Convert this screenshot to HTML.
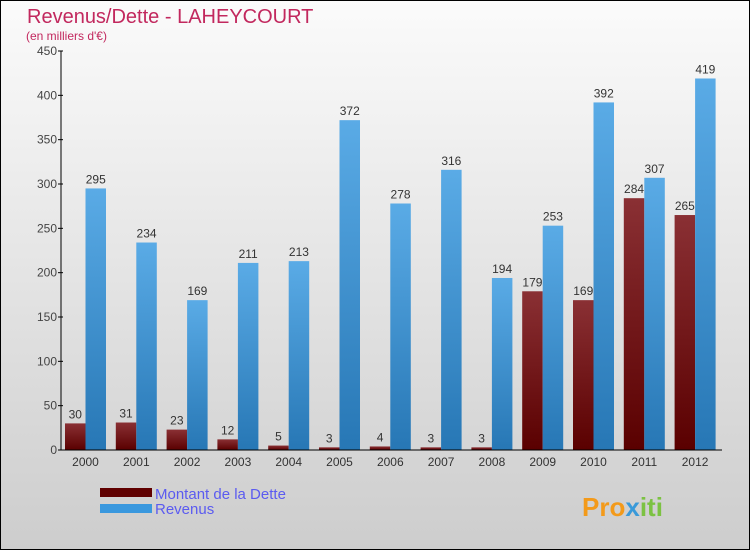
<!DOCTYPE html>
<html><head><meta charset="utf-8"><style>
body{margin:0}
#c{width:750px;height:550px;position:relative;overflow:hidden;font-family:"Liberation Sans",sans-serif}
</style></head><body>
<div id="c">
<svg id="s" width="750" height="550" xmlns="http://www.w3.org/2000/svg">
<defs>
<linearGradient id="bg" x1="0" y1="0" x2="0" y2="1"><stop offset="0" stop-color="#fbfbfb"/><stop offset="1" stop-color="#cdcdcd"/></linearGradient>
<linearGradient id="gd" x1="0" y1="0" x2="0" y2="1"><stop offset="0" stop-color="#8a3034"/><stop offset="1" stop-color="#5a0000"/></linearGradient>
<linearGradient id="gr" x1="0" y1="0" x2="0" y2="1"><stop offset="0" stop-color="#5aabe6"/><stop offset="1" stop-color="#2777b5"/></linearGradient>
</defs>
<rect x="0.5" y="0.5" width="749" height="549" fill="url(#bg)" stroke="#000"/>
<text x="27" y="23" font-size="20" fill="#c2285e">Revenus/Dette - LAHEYCOURT</text>
<text x="26" y="40" font-size="12" fill="#c2285e">(en milliers d'€)</text>
<g id="plot"></g>
<rect x="100" y="488" width="52" height="9" fill="#600000"/>
<rect x="100" y="504" width="52" height="9" fill="#3a98de"/>
<text x="155" y="499" font-size="15" fill="#5b5bf0">Montant de la Dette</text>
<text x="155" y="514" font-size="15" fill="#5b5bf0">Revenus</text>
<text x="582" y="516" font-size="26" font-weight="bold" fill="#f39a1a">Pro<tspan fill="#3a9ad9">x</tspan><tspan fill="#7cc242">iti</tspan></text>
</svg>
</div>
<script>
const years=["2000","2001","2002","2003","2004","2005","2006","2007","2008","2009","2010","2011","2012"];
const dette=[30,31,23,12,5,3,4,3,3,179,169,284,265];
const revenus=[295,234,169,211,213,372,278,316,194,253,392,307,419];
const ticks=[0,50,100,150,200,250,300,350,400,450];
const NS="http://www.w3.org/2000/svg";
const g=document.getElementById('plot');
const x0=61,yBase=450,yTop=51,vMax=450,gw=50.8,first=65,bw=20.5;
function y(v){return yBase-(yBase-yTop)*v/vMax;}
function gx(i){return first+i*gw;}
function mk(t,a){const e=document.createElementNS(NS,t);for(const k in a)e.setAttribute(k,a[k]);g.appendChild(e);return e;}
ticks.forEach(t=>{
 const l=mk('line',{x1:x0-3,x2:x0+2,y1:y(t),y2:y(t),stroke:'#000'});
 
 
 const tx=mk('text',{x:x0-4,y:y(t)+4,'font-size':12,fill:'#444','text-anchor':'end'});
 tx.textContent=t;
 
 
});
years.forEach((yr,i)=>{
 const x=gx(i);
 const d=mk('rect',{x:x,y:y(dette[i]),width:bw,height:yBase-y(dette[i]),fill:'url(#gd)'});
 
 
 const r=mk('rect',{x:x+bw,y:y(revenus[i]),width:bw,height:yBase-y(revenus[i]),fill:'url(#gr)'});
 
 
 const l1=mk('text',{x:x+bw/2,y:y(dette[i])-5,'font-size':12,fill:'#333','text-anchor':'middle'});
 l1.textContent=dette[i];
 
 
 const l2=mk('text',{x:x+bw*1.5,y:y(revenus[i])-5,'font-size':12,fill:'#333','text-anchor':'middle'});
 l2.textContent=revenus[i];
 
 
 const xl=mk('text',{x:x+bw,y:466,'font-size':12,fill:'#333','text-anchor':'middle'});
 xl.textContent=yr;
 
 
});
const ya=mk('line',{x1:x0,x2:x0,y1:yTop,y2:yBase,stroke:'#000'});


const xa=mk('line',{x1:x0,x2:722,y1:yBase,y2:yBase,stroke:'#000'});


</script>
</body></html>
